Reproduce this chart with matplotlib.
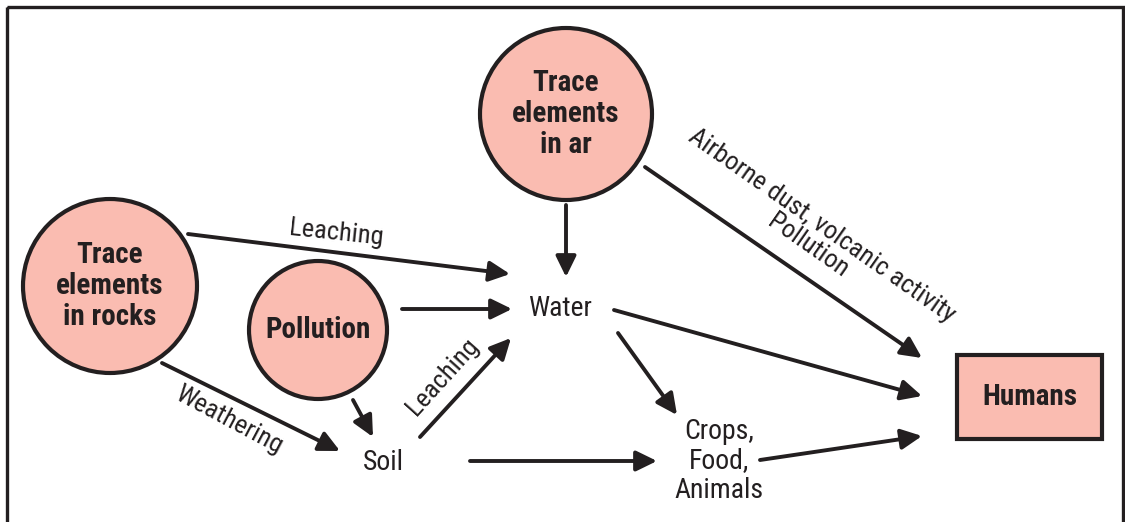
import matplotlib
matplotlib.use("Agg")
import matplotlib.pyplot as plt
import matplotlib.patches as patches

plt.rcParams["font.family"] = ["Roboto Condensed", "DejaVu Sans"]

INK = "#231F20"
PINK = "#FABCB1"

# circles: label, centre x, centre y, radius (pixel space)
circle_labels = ["Trace\nelements\nin ar", "Trace\nelements\nin rocks", "Pollution"]
circle_x = [566, 110, 318]
circle_y = [114, 286, 330]
circle_r = [86, 87, 69]

# box node
box_label = "Humans"
box_xy = (957, 355)
box_wh = (145, 84)

# plain text nodes
text_labels = ["Water", "Soil", "Crops,\nFood,\nAnimals"]
text_x = [560, 383, 719]
text_y = [309, 462, 461]

# arrows: start -> end
arrow_start = [(188, 234), (402, 309), (566, 205), (645, 167), (614, 310),
               (618, 333), (760, 460), (470, 461), (420, 437), (162, 363),
               (353, 400)]
arrow_end = [(510, 274), (512, 309), (566, 277), (922, 358), (922, 396),
             (677, 415), (922, 436), (657, 461), (511, 338), (340, 451),
             (373, 437)]

# edge labels: text, x, y, rotation
edge_labels = ["Leaching", "Airborne dust, volcanic activity\nPollution",
               "Leaching", "Weathering"]
edge_lx = [336, 815, 443, 229]
edge_ly = [233, 236, 377, 420]
edge_rot = [-6, -35, 48, -28]

fig = plt.figure(figsize=(11.25, 5.22), dpi=100, facecolor="white")
ax = fig.add_axes([0, 0, 1, 1])
ax.set_xlim(0, 1125)
ax.set_ylim(522, 0)
ax.axis("off")

# frame
ax.add_patch(patches.Rectangle((6.5, 6.5), 1116, 530, fill=False,
                               edgecolor=INK, linewidth=2.4))

for lab, x, y, r in zip(circle_labels, circle_x, circle_y, circle_r):
    ax.add_patch(patches.Circle((x, y), r, facecolor=PINK, edgecolor=INK,
                                linewidth=3))
    ax.text(x, y, lab, ha="center", va="center", fontsize=21,
            fontweight="bold", color=INK, linespacing=1.15)

ax.add_patch(patches.Rectangle(box_xy, box_wh[0], box_wh[1], facecolor=PINK,
                               edgecolor=INK, linewidth=3))
ax.text(box_xy[0] + box_wh[0] / 2, box_xy[1] + box_wh[1] / 2, box_label,
        ha="center", va="center", fontsize=21, fontweight="bold", color=INK)

for lab, x, y in zip(text_labels, text_x, text_y):
    ax.text(x, y, lab, ha="center", va="center", fontsize=20, color=INK,
            linespacing=1.12)

for s, e in zip(arrow_start, arrow_end):
    ax.annotate("", xy=e, xytext=s,
                arrowprops=dict(arrowstyle="-|>,head_length=0.45,head_width=0.22",
                                color=INK, lw=2.8, mutation_scale=28,
                                shrinkA=0, shrinkB=0))

for lab, x, y, rot in zip(edge_labels, edge_lx, edge_ly, edge_rot):
    ax.text(x, y, lab, ha="center", va="center", fontsize=19, color=INK,
            rotation=rot, rotation_mode="anchor", linespacing=1.05)

plt.savefig("out.png", dpi=100)
